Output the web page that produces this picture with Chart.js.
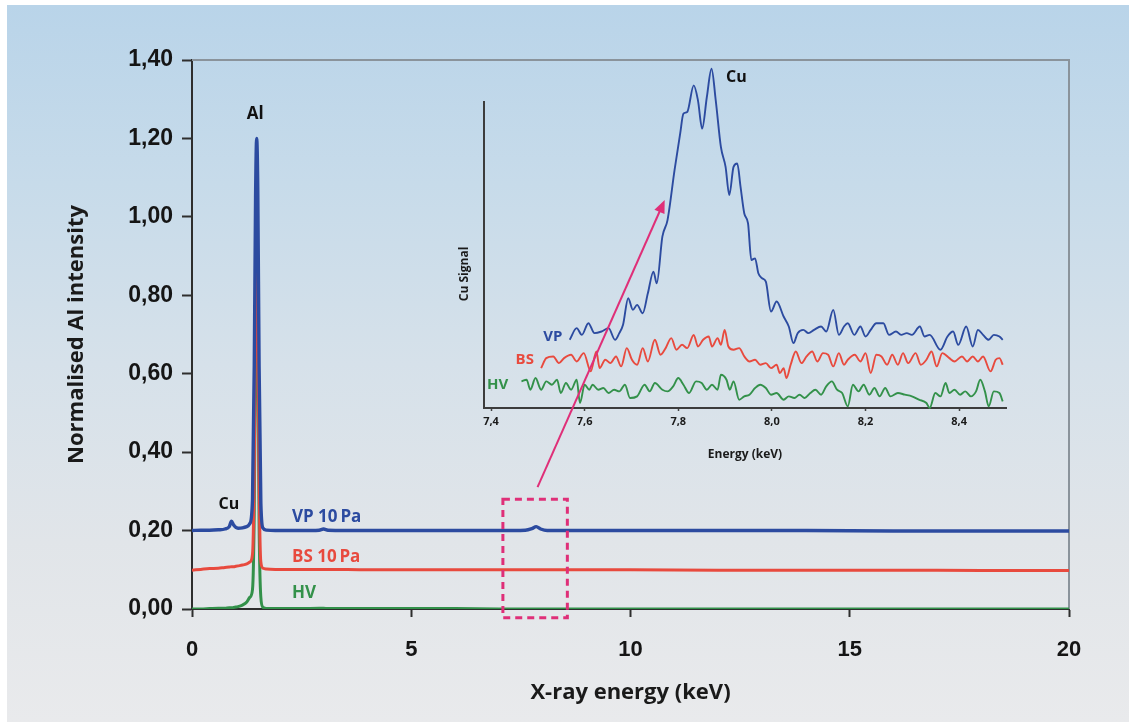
<!DOCTYPE html>
<html><head><meta charset="utf-8">
<script src="https://cdn.jsdelivr.net/npm/chart.js@4/dist/chart.umd.min.js"></script>
<style>
html,body{margin:0;padding:0;background:#fff;}
#wrap{position:relative;width:1135px;height:722px;background:#fff;overflow:hidden;}
#bg{position:absolute;left:7px;top:5px;right:6px;bottom:0;
 background:linear-gradient(to bottom,#b9d4e9 0%,#c7dbea 25%,#d6e1ea 50%,#e1e5e9 75%,#e9eaec 100%);}
canvas{position:absolute;left:0;top:0;}
</style></head><body>
<div id="wrap"><div id="bg"></div>
<canvas id="main" width="1135" height="722" style="width:1135px;height:722px"></canvas>
<canvas id="inset" width="1135" height="722" style="width:1135px;height:722px"></canvas>
</div>
<script>
// ---------- main spectrum (keV, normalised Al intensity) ----------
const mainEnergy = [0,0.2,0.4,0.6,0.75,0.85,0.9,0.95,1.0,1.05,1.15,1.25,1.32,1.38,1.42,1.45,1.475,1.5,1.53,1.57,1.62,1.7,1.9,2.5,2.9,3.0,3.1,4,5,6,7,7.6,7.75,7.85,7.95,8.1,9,10,12,14,16,18,20];
const vpMain = [0.200,0.201,0.201,0.202,0.204,0.210,0.224,0.214,0.208,0.206,0.207,0.210,0.218,0.28,0.62,1.05,1.20,1.07,0.62,0.27,0.206,0.201,0.200,0.200,0.201,0.204,0.201,0.200,0.200,0.200,0.200,0.201,0.205,0.210,0.204,0.200,0.200,0.200,0.200,0.200,0.199,0.199,0.199];
const bsMain = [0.099,0.101,0.103,0.104,0.106,0.107,0.108,0.108,0.109,0.110,0.112,0.115,0.12,0.14,0.36,0.80,1.10,0.82,0.34,0.12,0.104,0.102,0.101,0.101,0.101,0.101,0.101,0.100,0.100,0.100,0.100,0.100,0.100,0.100,0.100,0.100,0.100,0.100,0.099,0.099,0.099,0.098,0.098];
const hvMain = [0.000,0.000,0.001,0.002,0.002,0.003,0.003,0.004,0.005,0.006,0.010,0.018,0.03,0.05,0.25,0.68,1.00,0.70,0.22,0.03,0.004,0.001,0.001,0.001,0.002,0.002,0.001,0.001,0.001,0.001,0.000,0.000,0.000,0.000,0.000,0.000,0.000,0.000,0.000,0.000,0.000,0.000,0.000];
const mainXTicks = [0,5,10,15,20];
const mainYTicks = [0,0.2,0.4,0.6,0.8,1.0,1.2,1.4];

// ---------- inset: Cu K-alpha region (keV, arbitrary Cu signal) ----------
const vpE = [7.568,7.583,7.594,7.608,7.621,7.636,7.651,7.665,7.674,7.682,7.693,7.703,7.712,7.724,7.735,7.747,7.754,7.766,7.777,7.792,7.804,7.811,7.819,7.833,7.842,7.851,7.861,7.871,7.880,7.891,7.901,7.909,7.918,7.926,7.933,7.941,7.949,7.956,7.964,7.971,7.979,7.987,7.998,8.010,8.025,8.036,8.046,8.055,8.067,8.078,8.090,8.105,8.116,8.131,8.143,8.154,8.162,8.176,8.189,8.200,8.211,8.223,8.238,8.250,8.265,8.276,8.288,8.299,8.316,8.326,8.337,8.360,8.375,8.387,8.398,8.415,8.429,8.440,8.451,8.463,8.474,8.486,8.493];
const vpS = [20.5,24,22,25.5,22.5,23,24,20.5,22.5,25,33,29.5,31,28.5,34.5,41,37.5,51.5,56.5,71.5,82.5,88.5,89,97,92.5,84,93.5,102,92.5,78.5,72.5,64,72.5,73.5,66.5,58.5,55.5,44.5,45,40.5,39,38,29,32,27.5,24.5,19.5,22.5,23.5,22.5,23.5,24.5,23,29.5,22,24.5,25.5,22,24.5,21.5,23.5,25.5,25.5,22,23,22,22.5,22,24.5,21.5,22,17.5,21.5,23,19,24.5,18.5,23.5,22,20.5,22,21.5,20.5];
const bsE = [7.507,7.518,7.533,7.545,7.556,7.571,7.583,7.598,7.613,7.625,7.632,7.644,7.655,7.667,7.678,7.690,7.701,7.712,7.724,7.735,7.750,7.762,7.773,7.785,7.796,7.808,7.819,7.833,7.842,7.853,7.865,7.872,7.884,7.891,7.899,7.907,7.918,7.930,7.941,7.952,7.964,7.975,7.987,7.998,8.010,8.017,8.025,8.031,8.040,8.051,8.063,8.074,8.086,8.097,8.109,8.120,8.131,8.143,8.154,8.162,8.177,8.189,8.200,8.211,8.223,8.234,8.246,8.257,8.269,8.280,8.291,8.307,8.318,8.330,8.341,8.352,8.364,8.379,8.390,8.406,8.417,8.429,8.440,8.451,8.467,8.478,8.486,8.493];
const bsS = [12,15,15.5,13.5,15,16,14,16.5,11,17,12,14.5,13.5,15.5,12.5,18,14.5,13,18,14,20.5,16,18,21,17.5,19,18,22,18.5,20.5,21.5,18.5,21,19,23.5,18.5,17.5,18,15.5,14,14.5,13,13.5,12,13,10.5,12,9,13,17,13.5,15.5,17,14,16.5,16,12.5,16.5,13,14.5,16,14,16.5,10.5,16,15.5,13,16,13,16.5,13.5,16.5,13,14.5,17,12.5,16.5,15,14,15.5,14,15.5,14,15.5,11,14.5,15,13];
const hvE = [7.465,7.476,7.484,7.495,7.507,7.518,7.530,7.541,7.549,7.560,7.571,7.583,7.590,7.600,7.610,7.617,7.629,7.640,7.651,7.663,7.674,7.686,7.697,7.712,7.728,7.739,7.750,7.766,7.777,7.789,7.800,7.811,7.823,7.838,7.850,7.861,7.872,7.884,7.891,7.903,7.910,7.918,7.930,7.941,7.952,7.964,7.975,7.987,7.998,8.010,8.025,8.036,8.048,8.059,8.070,8.082,8.093,8.105,8.116,8.128,8.139,8.150,8.162,8.173,8.185,8.196,8.208,8.219,8.230,8.242,8.253,8.269,8.284,8.299,8.314,8.330,8.337,8.349,8.360,8.371,8.379,8.390,8.402,8.413,8.425,8.436,8.445,8.455,8.463,8.474,8.486,8.493];
const hvS = [8,8.5,5.5,9,5.5,8,7,8.5,4.5,7.5,5.5,8.5,1.5,7,5.5,7,5.5,6,4.5,5.5,5,7,3,3.5,7,5,7.5,5.5,5,6.5,9,7,4.5,8,7.5,5.5,7,5.5,10,8.5,5.5,8,2.5,3.5,4,6,7,6,4,4.5,2.5,3.5,3,4,3,4.5,5.5,4,6.5,8,5.5,4.5,0.5,7,5,7,4,6,3.5,6,3.5,4.5,4,3.5,2.5,1.5,0,4.5,3.5,7.5,4.5,5.5,4,5,3.5,5,8.5,5,0.5,5,4.5,2];
const insetXTicks = [7.4,7.6,7.8,8.0,8.2,8.4];

const BLUE='#2c4ba0', RED='#e84a3e', GREEN='#33914a', PINK='#df2f78', DARK='#2e2e2e';
const zip=(xs,ys)=>xs.slice(0,Math.min(xs.length,ys.length)).map((x,i)=>({x:x,y:ys[i]}));
const comma=(v,d)=>Number(v).toFixed(d).replace('.',',');

function textPlugin(id, items){
  return {id:id, afterDatasetsDraw(chart){
    const ctx=chart.ctx, xs=chart.scales.x, ys=chart.scales.y;
    items.forEach(it=>{
      ctx.save();
      ctx.font=it.font; ctx.fillStyle=it.color;
      ctx.textAlign=it.align||'center'; ctx.textBaseline='middle';
      ctx.translate(xs.getPixelForValue(it.x), ys.getPixelForValue(it.y));
      if(it.rot) ctx.rotate(it.rot);
      ctx.fillText(it.text,0,0);
      ctx.restore();
    });
  }};
}

const mainFrame = {id:'mainFrame',
  beforeDatasetsDraw(chart){
    const {ctx, chartArea:a} = chart;
    ctx.save(); ctx.strokeStyle='#8a939b'; ctx.lineWidth=2;
    ctx.beginPath(); ctx.moveTo(a.left,a.top); ctx.lineTo(a.right,a.top); ctx.lineTo(a.right,a.bottom); ctx.stroke();
    ctx.restore();
  },
  afterDatasetsDraw(chart){
    const ctx=chart.ctx, xs=chart.scales.x, ys=chart.scales.y;
    const x0=xs.getPixelForValue(7.09), x1=xs.getPixelForValue(8.56);
    const y0=ys.getPixelForValue(0.28), y1=ys.getPixelForValue(-0.022);
    ctx.save(); ctx.strokeStyle=PINK; ctx.lineWidth=3; ctx.setLineDash([7,5]);
    ctx.strokeRect(x0,y0,x1-x0,y1-y0); ctx.restore();
  }
};

const mainLabels = textPlugin('mainLabels',[
  {text:'Al', x:1.44, y:1.262, font:'bold 17px "Open Sans"', color:'#111'},
  {text:'Cu', x:0.84, y:0.266, font:'bold 16px "Open Sans"', color:'#111'},
  {text:'VP 10\u2009Pa', x:2.28, y:0.235, font:'bold 17px "Open Sans"', color:BLUE, align:'left'},
  {text:'BS 10\u2009Pa', x:2.28, y:0.133, font:'bold 17px "Open Sans"', color:RED, align:'left'},
  {text:'HV', x:2.28, y:0.041, font:'bold 17px "Open Sans"', color:GREEN, align:'left'}
]);

const lineDs=(label,data,color,w)=>({label:label,data:data,borderColor:color,borderWidth:w,pointRadius:0,fill:false,cubicInterpolationMode:'monotone'});

const mainChart = new Chart(document.getElementById('main'),{
  type:'line',
  data:{datasets:[
    lineDs('VP 10 Pa',zip(mainEnergy,vpMain),BLUE,3.4),
    lineDs('BS 10 Pa',zip(mainEnergy,bsMain),RED,3),
    lineDs('HV',zip(mainEnergy,hvMain),GREEN,3)
  ]},
  options:{
    responsive:false, animation:false, events:[],
    layout:{padding:{left:0,right:66,top:60,bottom:0}},
    plugins:{legend:{display:false},tooltip:{enabled:false}},
    scales:{
      x:{type:'linear',min:0,max:20,
        afterFit:s=>{s.height=113;},
        afterBuildTicks:s=>{s.ticks=mainXTicks.map(v=>({value:v}));},
        ticks:{color:'#151515',font:{family:'"Liberation Sans", Arial',weight:'bold',size:22},padding:20,maxRotation:0},
        grid:{display:true,drawOnChartArea:false,tickLength:8,tickColor:DARK,tickWidth:2},
        border:{display:true,color:DARK,width:2},
        title:{display:true,text:'X-ray energy (keV)',color:'#1a1a1a',font:{family:'"Open Sans"',weight:'bold',size:22},padding:{top:0,bottom:16}}
      },
      y:{type:'linear',min:0,max:1.4,
        afterFit:s=>{s.width=192;},
        afterBuildTicks:s=>{s.ticks=mainYTicks.map(v=>({value:v}));},
        ticks:{color:'#151515',font:{family:'"Liberation Sans", Arial',weight:'bold',size:23},padding:9,callback:v=>comma(v,2)},
        grid:{display:true,drawOnChartArea:false,tickLength:10,tickColor:DARK,tickWidth:2},
        border:{display:true,color:DARK,width:2},
        title:{display:true,text:'Normalised Al intensity',color:'#1a1a1a',font:{family:'"Open Sans"',weight:'bold',size:22},padding:{top:64,bottom:0}}
      }
    }
  },
  plugins:[mainFrame, mainLabels]
});

const insetLabels = textPlugin('insetLabels',[
  {text:'VP', x:7.532, y:21.4, font:'bold 15px "Open Sans"', color:BLUE},
  {text:'BS', x:7.472, y:14.5, font:'bold 15px "Open Sans"', color:RED},
  {text:'HV', x:7.414, y:7.0, font:'bold 15px "Open Sans"', color:GREEN},
  {text:'Cu', x:7.924, y:99.4, font:'bold 16px "Open Sans"', color:'#111'},
  {text:'Cu Signal', x:7.343, y:40.3, font:'bold 12px "Open Sans"', color:'#1a1a1a', rot:-Math.PI/2}
]);

// arrow from the dashed box (main chart coordinates) to the inset
const arrowPlugin = {id:'arrow', afterDatasetsDraw(chart){
  const xs=mainChart.scales.x, ys=mainChart.scales.y, ctx=chart.ctx;
  const x0=xs.getPixelForValue(7.88), y0=ys.getPixelForValue(0.311);
  const x1=xs.getPixelForValue(10.78), y1=ys.getPixelForValue(1.043);
  const ang=Math.atan2(y1-y0,x1-x0), L=13, W=5.5;
  ctx.save(); ctx.strokeStyle=PINK; ctx.fillStyle=PINK; ctx.lineWidth=2;
  ctx.beginPath(); ctx.moveTo(x0,y0); ctx.lineTo(x1-L*Math.cos(ang)*0.8,y1-L*Math.sin(ang)*0.8); ctx.stroke();
  ctx.beginPath(); ctx.moveTo(x1,y1);
  ctx.lineTo(x1-L*Math.cos(ang)+W*Math.sin(ang), y1-L*Math.sin(ang)-W*Math.cos(ang));
  ctx.lineTo(x1-L*Math.cos(ang)-W*Math.sin(ang), y1-L*Math.sin(ang)+W*Math.cos(ang));
  ctx.closePath(); ctx.fill(); ctx.restore();
}};

new Chart(document.getElementById('inset'),{
  type:'line',
  data:{datasets:[
    lineDs('VP',zip(vpE,vpS),BLUE,1.9),
    lineDs('BS',zip(bsE,bsS),RED,1.9),
    lineDs('HV',zip(hvE,hvS),GREEN,1.9)
  ]},
  options:{
    responsive:false, animation:false, events:[],
    clip:false,
    layout:{padding:{left:0,right:129,top:102,bottom:252}},
    plugins:{legend:{display:false},tooltip:{enabled:false}},
    scales:{
      x:{type:'linear',min:7.385,max:8.5,
        afterFit:s=>{s.height=62;},
        afterBuildTicks:s=>{s.ticks=insetXTicks.map(v=>({value:v}));},
        ticks:{color:'#1a1a1a',font:{family:'"Open Sans"',weight:'bold',size:11},padding:4,maxRotation:0,callback:v=>comma(v,1)},
        grid:{display:true,drawOnChartArea:false,tickLength:3,tickColor:'#444',tickWidth:1.5},
        border:{display:true,color:'#3c3c3c',width:2},
        title:{display:true,text:'Energy (keV)',color:'#1a1a1a',font:{family:'"Open Sans"',weight:'bold',size:12},padding:{top:0,bottom:8}}
      },
      y:{type:'linear',min:0,max:92,
        afterFit:s=>{s.width=484;},
        ticks:{display:false},
        grid:{display:false},
        border:{display:true,color:'#3c3c3c',width:2}
      }
    }
  },
  plugins:[arrowPlugin, insetLabels]
});
</script>
</body></html>
